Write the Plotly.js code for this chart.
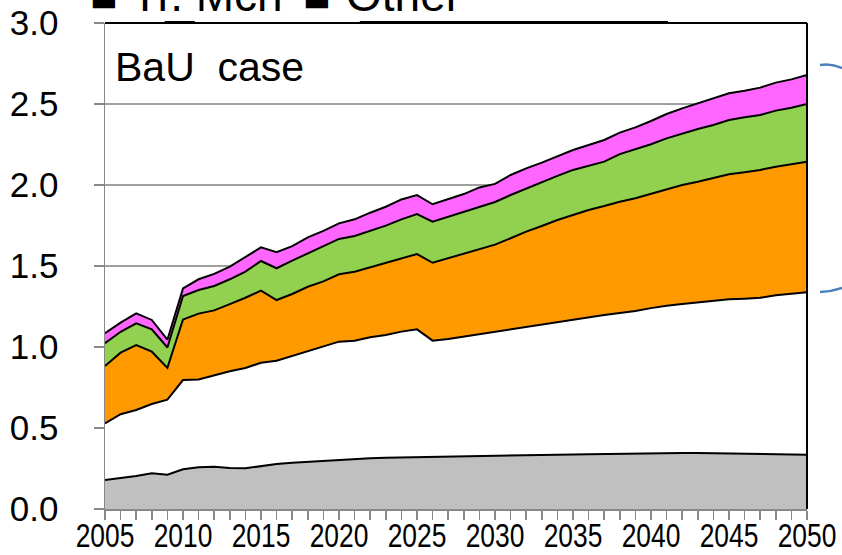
<!DOCTYPE html>
<html>
<head>
<meta charset="utf-8">
<script src="https://cdn.plot.ly/plotly-3.0.1.min.js"></script>
<style>
  html, body { margin: 0; padding: 0; background: #ffffff; }
  #chart { width: 842px; height: 555px; }
</style>
</head>
<body>
<div id="chart"></div>
<script>
// ---- data (stacked layers) ----
const years = [2005,2006,2007,2008,2009,2010,2011,2012,2013,2014,2015,2016,2017,2018,2019,
  2020,2021,2022,2023,2024,2025,2026,2027,2028,2029,2030,2031,2032,2033,2034,2035,2036,2037,2038,2039,
  2040,2041,2042,2043,2044,2045,2046,2047,2048,2049,2050];

const grayLayer = [0.179,0.190,0.204,0.221,0.212,0.245,0.257,0.261,0.253,0.251,0.265,0.278,0.286,0.292,0.298,
  0.305,0.309,0.313,0.317,0.319,0.321,0.323,0.324,0.325,0.327,0.328,0.329,0.331,0.333,0.335,0.337,0.338,0.340,0.342,0.344,
  0.345,0.346,0.346,0.345,0.344,0.343,0.341,0.339,0.338,0.336,0.335];

const whiteLayer = [0.350,0.395,0.407,0.427,0.463,0.551,0.543,0.566,0.597,0.619,0.638,0.637,0.658,0.679,0.704,
  0.728,0.730,0.747,0.757,0.776,0.788,0.716,0.725,0.739,0.754,0.767,0.780,0.794,0.809,0.821,0.834,0.845,0.858,0.868,0.878,
  0.895,0.909,0.919,0.929,0.940,0.951,0.957,0.965,0.981,0.991,1.003];

const orangeLayer = [0.354,0.380,0.401,0.323,0.196,0.374,0.406,0.399,0.415,0.434,0.445,0.375,0.383,0.401,0.403,
  0.416,0.426,0.432,0.442,0.452,0.465,0.481,0.498,0.510,0.523,0.537,0.562,0.587,0.605,0.628,0.644,0.663,0.672,0.687,0.696,
  0.704,0.718,0.735,0.746,0.757,0.772,0.780,0.789,0.794,0.801,0.806];

const greenLayer = [0.140,0.129,0.134,0.138,0.126,0.145,0.146,0.151,0.153,0.161,0.183,0.196,0.206,0.206,0.215,
  0.218,0.220,0.224,0.233,0.241,0.247,0.254,0.258,0.261,0.260,0.263,0.267,0.267,0.273,0.272,0.278,0.271,0.274,0.294,0.302,
  0.308,0.315,0.319,0.326,0.329,0.335,0.340,0.339,0.346,0.349,0.356];

const magentaLayer = [0.062,0.056,0.062,0.058,0.048,0.047,0.066,0.074,0.078,0.089,0.084,0.099,0.090,0.099,0.097,
  0.096,0.103,0.113,0.117,0.123,0.117,0.107,0.106,0.109,0.121,0.112,0.124,0.124,0.118,0.123,0.123,0.130,0.134,0.132,0.136,
  0.143,0.150,0.154,0.158,0.165,0.165,0.164,0.169,0.173,0.175,0.179];

const xTickVals = [2005,2010,2015,2020,2025,2030,2035,2040,2045,2050];
const xTickText = ['2005','2010','2015','2020','2025','2030','2035','2040','2045','2050'];
const yTickVals = [0,0.5,1,1.5,2,2.5,3];
const yTickText = ['0.0','0.5','1.0','1.5','2.0','2.5','3.0'];
const legendLabels = ['Tr. Mch', 'Other'];

// ---- traces ----
const layers = [
  {name:'Gray', y: grayLayer, color:'#c0c0c0'},
  {name:'White', y: whiteLayer, color:'#ffffff'},
  {name:'Orange', y: orangeLayer, color:'#ff9900'},
  {name:'Green', y: greenLayer, color:'#92d050'},
  {name:'Magenta', y: magentaLayer, color:'#ff66ff'}
];
const traces = layers.map(l => ({
  type:'scatter', mode:'lines', x: years, y: l.y, name: l.name,
  stackgroup:'one', fillcolor: l.color,
  line:{color:'#000000', width:2},
  hoverinfo:'skip', showlegend:false
}));

const legFont = {family:'"Liberation Sans", Arial, sans-serif', size:46, color:'#000000'};

const layout = {
  width: 842, height: 555,
  margin: {l:105, r:35, t:23, b:46, pad:0},
  paper_bgcolor:'#ffffff', plot_bgcolor:'#ffffff',
  showlegend:false,
  xaxis: {
    range:[2005,2050], tickvals: xTickVals, ticktext: xTickText,
    ticks:'outside', ticklen:9, tickwidth:1.5, tickcolor:'#888888',
    minor:{dtick:1, tick0:2005, ticks:'outside', ticklen:9, tickwidth:1.5, tickcolor:'#888888', showgrid:false},
    showgrid:false, zeroline:false, ticklabeloverflow:'allow',
    showline:true, linecolor:'#888888', linewidth:1.5,
    tickfont:{family:'"Liberation Sans", Arial, sans-serif', size:33, color:'#000000'}
  },
  yaxis: {
    range:[0,3], tickvals: yTickVals, ticktext: yTickText,
    ticks:'outside', ticklen:10, tickwidth:1.5, tickcolor:'#888888',
    ticklabelstandoff: 28,
    showgrid:true, gridcolor:'#a0a0a0', gridwidth:1.5,
    zeroline:false, showline:true, linecolor:'#888888', linewidth:1.5,
    tickfont:{family:'"Liberation Sans", Arial, sans-serif', size:35, color:'#000000'}
  },
  shapes: [
    {type:'line', xref:'paper', yref:'paper', x0:0, x1:1, y0:1, y1:1, line:{color:'#000000', width:2}},
    {type:'line', xref:'paper', yref:'paper', x0:1, x1:1, y0:0, y1:1, line:{color:'#000000', width:2}},
    {type:'line', xref:'paper', yref:'paper', x0:0.085, x1:0.128, y0:1.001, y1:1.001, line:{color:'#000000', width:3}},
    {type:'line', xref:'paper', yref:'paper', x0:0.363, x1:0.802, y0:1.001, y1:1.001, line:{color:'#000000', width:3}},
    {type:'path', xref:'paper', yref:'paper', path:'M1.0185,0.9135 Q1.034,0.918 1.0499,0.907', line:{color:'#4a7ebb', width:2.5}},
    {type:'path', xref:'paper', yref:'paper', path:'M1.0185,0.4465 Q1.034,0.447 1.0499,0.455', line:{color:'#4a7ebb', width:2.5}}
  ],
  annotations: [
    {xref:'paper', yref:'paper', x:0.011, y:0.909, xanchor:'left', yanchor:'middle', showarrow:false,
     text:'BaU  case', font:{family:'"Liberation Sans", Arial, sans-serif', size:41, color:'#000000'}},
    {xref:'paper', yref:'paper', x:-0.024, y:1.0, xanchor:'left', yanchor:'bottom', showarrow:false,
     text:'■', font:legFont},
    {xref:'paper', yref:'paper', x:0.034, y:1.0, xanchor:'left', yanchor:'bottom', showarrow:false,
     text:legendLabels[0], font:legFont},
    {xref:'paper', yref:'paper', x:0.279, y:1.0, xanchor:'left', yanchor:'bottom', showarrow:false,
     text:'■', font:legFont},
    {xref:'paper', yref:'paper', x:0.340, y:1.0, xanchor:'left', yanchor:'bottom', showarrow:false,
     text:legendLabels[1], font:legFont}
  ]
};

Plotly.newPlot('chart', traces, layout, {staticPlot:true, displayModeBar:false}).then(function () {
  // condensed look of the reference's x tick labels, lifted closer to the axis
  document.querySelectorAll('.xtick text').forEach(function (t) {
    const x = parseFloat(t.getAttribute('x')) || 0;
    const y = parseFloat(t.getAttribute('y')) || 0;
    const tr = t.getAttribute('transform') || '';
    t.setAttribute('transform', tr + ' translate(' + x + ',' + (y - 12) + ') scale(0.8,1) translate(' + (-x) + ',' + (-y) + ')');
  });
});
</script>
</body>
</html>
